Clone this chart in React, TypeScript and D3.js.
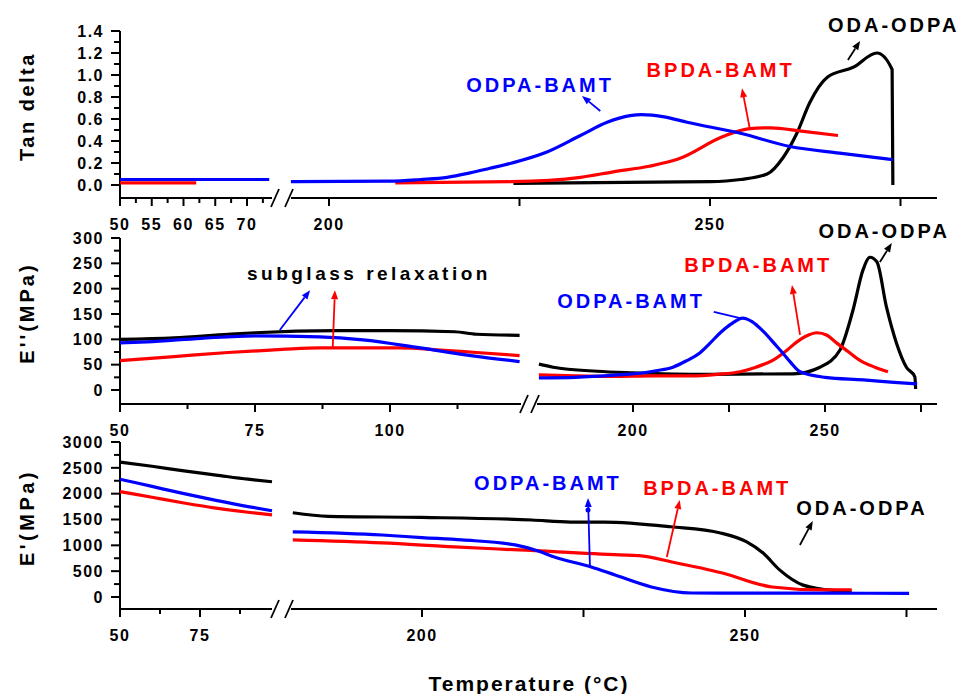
import React from "react";
import * as d3 from "d3";

type Pt = [number, number];

const BLUE = "#0000ff";
const RED = "#ff0000";
const BLACK = "#000000";

// ---------- Panel 1: Tan delta ----------
const tanYTicks = [0, 0.2, 0.4, 0.6, 0.8, 1.0, 1.2, 1.4];
const tanYTickLabels = ["0.0", "0.2", "0.4", "0.6", "0.8", "1.0", "1.2", "1.4"];
const tanYMinor = [0.1, 0.3, 0.5, 0.7, 0.9, 1.1, 1.3];
const tanXLeftTicks = [50, 55, 60, 65, 70];
const tanXLeftMinor = [52.5, 57.5, 62.5, 67.5, 72.5];
const tanXRightTicks = [200, 225, 250, 275];
const tanXRightLabels = ["200", "", "250", ""];

const tanBlueLeft: Pt[] = [[50, 0.05], [73.5, 0.05]];
const tanRedLeft: Pt[] = [[50, 0.02], [62, 0.02]];
const tanBlueRight: Pt[] = [
  [195, 0.03], [208, 0.035], [212, 0.05], [215.5, 0.07], [218.5, 0.11], [221, 0.15],
  [224, 0.2], [228.6, 0.3], [233, 0.45], [236.5, 0.57], [239.5, 0.63], [241, 0.64],
  [244, 0.62], [247, 0.57], [254, 0.47], [260.5, 0.35], [267, 0.29], [274, 0.23],
];
const tanRedRight: Pt[] = [
  [208.7, 0.02], [224, 0.03], [233, 0.07], [237.3, 0.12], [242, 0.17], [246, 0.24],
  [251.7, 0.44], [255, 0.51], [258, 0.52], [262, 0.49], [266.8, 0.45],
];
const tanBlackRight: Pt[] = [
  [224.2, 0.015], [250, 0.03], [254, 0.05], [257.5, 0.1], [259.6, 0.25], [261.4, 0.47],
  [263.1, 0.75], [265.4, 0.98], [268.8, 1.07], [271.9, 1.2], [273.9, 1.05], [274, 0.0],
];

// ---------- Panel 2: E'' ----------
const lossYTicks = [0, 50, 100, 150, 200, 250, 300];
const lossYTickLabels = ["0", "50", "100", "150", "200", "250", "300"];
const lossYMinor = [25, 75, 125, 175, 225, 275];
const lossXLeftTicks = [50, 75, 100];
const lossXLeftMinor = [62.5, 87.5, 112.5];
const lossXRightTicks = [200, 225, 250, 275];
const lossXRightLabels = ["200", "", "250", ""];

const lossBlackLeft: Pt[] = [
  [50, 100], [60, 103], [70, 110], [75, 113], [90, 117], [100, 117], [112, 115], [116, 110], [124, 108],
];
const lossBlueLeft: Pt[] = [
  [50, 93], [55, 95], [65, 102], [75, 107], [87, 105], [95, 99], [105.6, 83], [115, 68], [124, 56],
];
const lossRedLeft: Pt[] = [
  [50, 58], [60, 66], [70, 74], [80, 80], [87, 83], [101.8, 83], [109.3, 79], [116, 74], [124, 68],
];
const lossBlackRight: Pt[] = [
  [175.5, 51], [179.2, 45], [190.6, 37], [200, 34], [220, 31], [241.7, 32], [248.7, 45],
  [253.9, 79], [257.3, 158], [259.9, 237], [261.7, 262], [263.5, 253], [266, 164],
  [268.6, 93], [271.2, 45], [273.4, 26], [273.6, 2],
];
const lossBlueRight: Pt[] = [
  [175.5, 24], [185, 25], [196.6, 30], [201.8, 33], [206, 38], [210.4, 45], [214, 58],
  [217.4, 73], [220, 92], [222.6, 112], [225.5, 130], [228.6, 142], [231, 135], [234, 115],
  [237, 90], [239, 73], [241, 55], [243.5, 36], [250, 25], [260, 20], [268, 15], [274, 12],
];
const lossRedRight: Pt[] = [
  [175.5, 30], [185, 28], [195, 27], [205, 28], [215, 28], [222, 31], [227.9, 36],
  [232, 45], [236.5, 59], [240, 78], [242.7, 95], [245, 106], [247.9, 113], [250.5, 108],
  [253, 93], [256, 76], [259, 59], [263, 45], [266.4, 36],
];

// ---------- Panel 3: E' ----------
const storYTicks = [0, 500, 1000, 1500, 2000, 2500, 3000];
const storYTickLabels = ["0", "500", "1000", "1500", "2000", "2500", "3000"];
const storYMinor = [250, 750, 1250, 1750, 2250, 2750];
const storXLeftTicks = [50, 75];
const storXLeftMinor = [62.5, 87.5];
const storXRightTicks = [200, 225, 250, 275];
const storXRightLabels = ["200", "", "250", ""];

const storBlackLeft: Pt[] = [[50, 2610], [60, 2530], [70, 2440], [80, 2360], [90, 2280], [97.5, 2230]];
const storBlueLeft: Pt[] = [[50, 2280], [60, 2140], [70, 2000], [80, 1870], [90, 1750], [97.5, 1670]];
const storRedLeft: Pt[] = [[50, 2040], [60, 1930], [70, 1820], [80, 1720], [90, 1640], [97.5, 1590]];
const storBlackRight: Pt[] = [
  [180, 1630], [185.5, 1560], [200, 1540], [217, 1490], [223, 1450], [228.2, 1450],
  [238.5, 1360], [246.2, 1240], [250.2, 1070], [252.8, 850], [255.4, 520], [259, 230],
  [263.6, 130], [266.5, 120],
];
const storBlueRight: Pt[] = [
  [180, 1260], [193.8, 1200], [200, 1150], [206.2, 1105], [214.4, 1008], [218, 890],
  [220.5, 775], [226.2, 581], [230, 420], [235.5, 194], [241.7, 77], [250, 75], [260, 75], [275.4, 70],
];
const storRedRight: Pt[] = [
  [180, 1105], [193.8, 1047], [205, 969], [215, 911], [230.6, 814], [233.6, 800],
  [238.7, 678], [246.5, 465], [254.2, 194], [261.9, 136], [266.5, 136],
];

type Ann = { text: string; color: string; seg: "L" | "R"; x: number; y: number; size?: number; ls?: number };
type Arrow = { color: string; seg: "L" | "R"; from: Pt; to: Pt; head?: boolean; dot?: Pt };

const panels = [
  {
    yTitle: "Tan delta",
    yTitleLs: 2.5,
    yDom: [0, 1.4], yRange: [185, 31], axisY: 198,
    yTicks: tanYTicks, yLabels: tanYTickLabels, yMinor: tanYMinor,
    xl: { dom: [50, 70], range: [120, 247], end: 272 },
    xr: { dom: [200, 250], range: [329, 710], start: 291, end: 937 },
    xlTicks: tanXLeftTicks, xlLabels: tanXLeftTicks.map(String), xlMinor: tanXLeftMinor,
    xrTicks: tanXRightTicks, xrLabels: tanXRightLabels,
    left: [
      { c: BLUE, d: tanBlueLeft },
      { c: RED, d: tanRedLeft },
    ],
    right: [
      { c: BLACK, d: tanBlackRight },
      { c: RED, d: tanRedRight },
      { c: BLUE, d: tanBlueRight },
    ],
    anns: [
      { text: "ODPA-BAMT", color: BLUE, seg: "R", x: 227.7, y: 0.845 },
      { text: "BPDA-BAMT", color: RED, seg: "R", x: 251.4, y: 0.98 },
      { text: "ODA-ODPA", color: BLACK, seg: "R", x: 274.1, y: 1.39 },
    ] as Ann[],
    arrows: [
      { color: BLUE, seg: "R", from: [235.6, 0.673], to: [233.2, 0.81] },
      { color: RED, seg: "R", from: [255.2, 0.52], to: [254.2, 0.88] },
      { color: BLACK, seg: "R", from: [268.1, 1.136], to: [269.7, 1.31] },
    ] as Arrow[],
  },
  {
    yTitle: "E''(MPa)",
    yTitleLs: 3,
    yDom: [0, 300], yRange: [390, 238], axisY: 404,
    yTicks: lossYTicks, yLabels: lossYTickLabels, yMinor: lossYMinor,
    xl: { dom: [50, 100], range: [120, 390], end: 521 },
    xr: { dom: [200, 250], range: [633, 825], start: 537, end: 937 },
    xlTicks: lossXLeftTicks, xlLabels: lossXLeftTicks.map(String), xlMinor: lossXLeftMinor,
    xrTicks: lossXRightTicks, xrLabels: lossXRightLabels,
    left: [
      { c: BLACK, d: lossBlackLeft },
      { c: RED, d: lossRedLeft },
      { c: BLUE, d: lossBlueLeft },
    ],
    right: [
      { c: BLACK, d: lossBlackRight },
      { c: RED, d: lossRedRight },
      { c: BLUE, d: lossBlueRight },
    ],
    anns: [
      { text: "subglass relaxation", color: BLACK, seg: "L", x: 96.1, y: 217, size: 19, ls: 3.5 },
      { text: "ODPA-BAMT", color: BLUE, seg: "R", x: 199.5, y: 161.8 },
      { text: "BPDA-BAMT", color: RED, seg: "R", x: 232.6, y: 232.9 },
      { text: "ODA-ODPA", color: BLACK, seg: "R", x: 265.4, y: 300 },
    ] as Ann[],
    arrows: [
      { color: BLUE, seg: "L", from: [79.6, 118.4], to: [85.2, 197] },
      { color: RED, seg: "L", from: [89.4, 84.9], to: [89.8, 197] },
      { color: BLUE, seg: "R", from: [227.9, 142.1], to: [218.75, 157.9], head: false },
      { color: RED, seg: "R", from: [243.5, 108.6], to: [241.4, 207.2] },
      { color: BLACK, seg: "R", from: [264.3, 252.6], to: [267.4, 290.1] },
    ] as Arrow[],
  },
  {
    yTitle: "E'(MPa)",
    yTitleLs: 3.5,
    yDom: [0, 3000], yRange: [597, 442], axisY: 609,
    yTicks: storYTicks, yLabels: storYTickLabels, yMinor: storYMinor,
    xl: { dom: [50, 75], range: [120, 200], end: 272 },
    xr: { dom: [200, 250], range: [422, 745], start: 291, end: 937 },
    xlTicks: storXLeftTicks, xlLabels: storXLeftTicks.map(String), xlMinor: storXLeftMinor,
    xrTicks: storXRightTicks, xrLabels: storXRightLabels,
    left: [
      { c: BLACK, d: storBlackLeft },
      { c: BLUE, d: storBlueLeft },
      { c: RED, d: storRedLeft },
    ],
    right: [
      { c: BLACK, d: storBlackRight },
      { c: RED, d: storRedRight },
      { c: BLUE, d: storBlueRight },
    ],
    anns: [
      { text: "ODPA-BAMT", color: BLUE, seg: "R", x: 219.5, y: 2071 },
      { text: "BPDA-BAMT", color: RED, seg: "R", x: 245.7, y: 1974 },
      { text: "ODA-ODPA", color: BLACK, seg: "R", x: 268.1, y: 1587 },
    ] as Ann[],
    arrows: [
      { color: BLUE, seg: "R", from: [226.0, 580.6], to: [225.7, 1916], dot: [225.7, 1684] },
      { color: RED, seg: "R", from: [237.9, 774], to: [239.9, 1877] },
      { color: BLACK, seg: "R", from: [258.5, 1006], to: [260.5, 1471] },
    ] as Arrow[],
  },
];

const FONT = "'Liberation Sans', Arial, Helvetica, sans-serif";

function Panel({ p }: { p: (typeof panels)[number] }) {
  const y = d3.scaleLinear().domain(p.yDom).range(p.yRange);
  const xl = d3.scaleLinear().domain(p.xl.dom).range(p.xl.range);
  const xr = d3.scaleLinear().domain(p.xr.dom).range(p.xr.range);
  const lineL = d3.line<Pt>().x((d) => xl(d[0])).y((d) => y(d[1])).curve(d3.curveMonotoneX);
  const lineR = d3.line<Pt>().x((d) => xr(d[0])).y((d) => y(d[1])).curve(d3.curveMonotoneX);
  const top = p.yRange[1];
  const ax = p.axisY;
  const sx = (seg: "L" | "R", v: number) => (seg === "L" ? xl(v) : xr(v));

  const slash = (cx: number) => (
    <line x1={cx - 4} y1={ax + 9} x2={cx + 4} y2={ax - 9} stroke="#000" strokeWidth={1.8} />
  );

  return (
    <g>
      {/* y axis */}
      <line x1={120} y1={top} x2={120} y2={ax} stroke="#000" strokeWidth={2} />
      {p.yTicks.map((t, i) => (
        <g key={"yt" + i}>
          <line x1={111} x2={120} y1={y(t)} y2={y(t)} stroke="#000" strokeWidth={2} />
          <text
            x={104}
            y={y(t)}
            dy="0.36em"
            textAnchor="end"
            fontSize={16}
            fontWeight="bold"
            letterSpacing={1.5}
            fontFamily={FONT}
          >
            {p.yLabels[i]}
          </text>
        </g>
      ))}
      {p.yMinor.map((t, i) => (
        <line key={"ym" + i} x1={114} x2={120} y1={y(t)} y2={y(t)} stroke="#000" strokeWidth={2} />
      ))}
      {/* x axis left segment */}
      <line x1={120} x2={p.xl.end} y1={ax} y2={ax} stroke="#000" strokeWidth={2} />
      <line x1={p.xr.start} x2={p.xr.end} y1={ax} y2={ax} stroke="#000" strokeWidth={2} />
      {slash(p.xl.end + 3)}
      {slash(p.xr.start - 2)}
      {p.xlTicks.map((t, i) => (
        <g key={"xl" + i}>
          <line x1={xl(t)} x2={xl(t)} y1={ax} y2={ax + 8} stroke="#000" strokeWidth={2} />
          <text
            x={xl(t)}
            y={ax + 32}
            textAnchor="middle"
            fontSize={16}
            fontWeight="bold"
            letterSpacing={1.5}
            fontFamily={FONT}
          >
            {p.xlLabels[i]}
          </text>
        </g>
      ))}
      {p.xlMinor.map((t, i) =>
        xl(t) < p.xl.end ? (
          <line key={"xlm" + i} x1={xl(t)} x2={xl(t)} y1={ax} y2={ax + 5} stroke="#000" strokeWidth={2} />
        ) : null
      )}
      {p.xrTicks.map((t, i) => (
        <g key={"xr" + i}>
          <line x1={xr(t)} x2={xr(t)} y1={ax} y2={ax + 8} stroke="#000" strokeWidth={2} />
          <text
            x={xr(t)}
            y={ax + 32}
            textAnchor="middle"
            fontSize={16}
            fontWeight="bold"
            letterSpacing={1.5}
            fontFamily={FONT}
          >
            {p.xrLabels[i]}
          </text>
        </g>
      ))}
      {/* y title */}
      <text
        transform={`translate(34, ${(top + ax) / 2 - 8}) rotate(-90)`}
        textAnchor="middle"
        fontSize={20}
        fontWeight="bold"
        letterSpacing={p.yTitleLs}
        fontFamily={FONT}
      >
        {p.yTitle}
      </text>
      {/* series */}
      {p.left.map((s, i) => (
        <path key={"sl" + i} d={lineL(s.d) || ""} fill="none" stroke={s.c} strokeWidth={3.2} />
      ))}
      {p.right.map((s, i) => (
        <path key={"sr" + i} d={lineR(s.d) || ""} fill="none" stroke={s.c} strokeWidth={3.2} />
      ))}
      {/* annotations */}
      {p.anns.map((a, i) => (
        <text
          key={"an" + i}
          x={sx(a.seg, a.x)}
          y={y(a.y)}
          textAnchor="middle"
          fill={a.color}
          fontSize={a.size ?? 20}
          fontWeight="bold"
          letterSpacing={a.ls ?? 3}
          fontFamily={FONT}
        >
          {a.text}
        </text>
      ))}
      {p.arrows.map((a, i) => {
        const x1 = sx(a.seg, a.from[0]);
        const y1 = y(a.from[1]);
        const x2 = sx(a.seg, a.to[0]);
        const y2 = y(a.to[1]);
        const ang = Math.atan2(y2 - y1, x2 - x1);
        const L = 9;
        const W = 3.5;
        const bx = x2 - L * Math.cos(ang);
        const by = y2 - L * Math.sin(ang);
        const px = -Math.sin(ang) * W;
        const py = Math.cos(ang) * W;
        return (
          <g key={"ar" + i}>
            <line x1={x1} y1={y1} x2={bx} y2={by} stroke={a.color} strokeWidth={1.8} />
            {a.head !== false && (
              <path
                d={`M${x2},${y2}L${bx + px},${by + py}L${bx - px},${by - py}Z`}
                fill={a.color}
              />
            )}
            {a.dot && <circle cx={sx(a.seg, a.dot[0])} cy={y(a.dot[1])} r={2.5} fill={a.color} />}
          </g>
        );
      })}
    </g>
  );
}

export default function App() {
  return (
    <svg
      width={967}
      height={694}
      style={{ position: "absolute", left: 0, top: 0, background: "#fff" }}
    >
      <rect width={967} height={694} fill="#fff" />
      {panels.map((p, i) => (
        <Panel key={i} p={p} />
      ))}
      <text
        x={529}
        y={691}
        textAnchor="middle"
        fontSize={21}
        fontWeight="bold"
        letterSpacing={2}
        fontFamily={FONT}
      >
        Temperature (°C)
      </text>
    </svg>
  );
}
